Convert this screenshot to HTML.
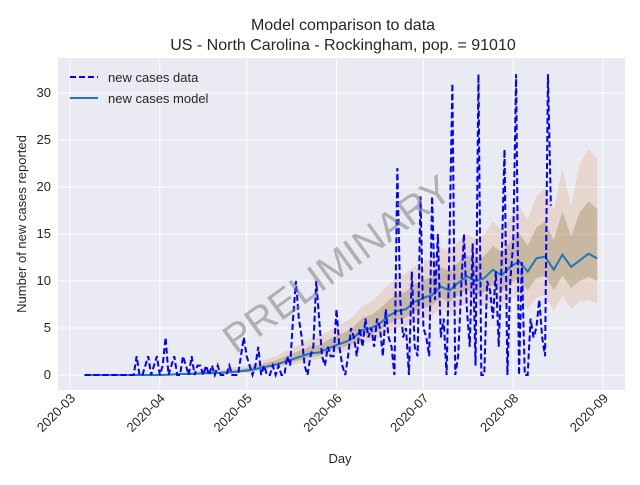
<!DOCTYPE html>
<html><head><meta charset="utf-8"><style>
body{margin:0;background:#fff;font-family:"Liberation Sans","DejaVu Sans",sans-serif}
</style></head><body>
<svg id="c" width="640" height="480" xmlns="http://www.w3.org/2000/svg">
<rect x="0" y="0" width="640" height="480" fill="#fff"/>
<rect x="58" y="58" width="567" height="332" fill="#eaeaf2"/>
<g id="grid"></g>
<g id="band"></g>
<g id="lines"></g>
<g id="ticks"></g>
<text x="343" y="30" text-anchor="middle" font-size="16" fill="#262626">Model comparison to data</text>
<text x="343" y="50" text-anchor="middle" font-size="16" fill="#262626">US - North Carolina - Rockingham, pop. = 91010</text>
<text x="340" y="463" text-anchor="middle" font-size="13" fill="#262626">Day</text>
<text transform="translate(26,224) rotate(-90)" text-anchor="middle" font-size="13" fill="#262626">Number of new cases reported</text>
<text transform="translate(345,275) rotate(-36)" text-anchor="middle" font-size="40" fill="#808080" fill-opacity="0.55">PRELIMINARY</text>
<g>
<line x1="70" y1="77" x2="98" y2="77" stroke="#0000ff" stroke-width="2" stroke-dasharray="6,3"/>
<text x="108" y="82" font-size="13" fill="#262626">new cases data</text>
<line x1="70" y1="98" x2="98" y2="98" stroke="#1f77b4" stroke-width="2"/>
<text x="108" y="103" font-size="13" fill="#262626">new cases model</text>
</g>
</svg>
<script>
const yTicks=[0,5,10,15,20,25,30];
const xTickLabels=["2020-03","2020-04","2020-05","2020-06","2020-07","2020-08","2020-09"];
const xTickDays=[0,31,61,92,122,153,184];
const dataStartDay=5;
const dataValues=[0,0, 0,0,0,0,0,0,0, 0,0,0,0,0,0,0, 0,0,2,0,0,1,2,
0,1,2,0,1,4,0, 1,2,0,0,2,1,0, 2,0,1,1,0,1,0, 1,0,1,0,0,0,1, 0,0,0,2,4,2,1,
0,1,3,0,1,0,0, 1,0,1,0,0,2,1, 6,10,6,4,1,0,2, 3,10,6,2,1,3,2, 2,7,3,1,0,2,5,
4,2,5,3,6,4,5, 3,6,5,2,7,4,3, 0,22,8,4,5,0,11, 3,2,19,5,4,2,19, 8,15,4,6,0,14,31,
0,2,9,15,7,3,14, 1,32,0,0,10,9,6, 11,3,12,24,0,10,14, 32,0,12,0,0,6,4, 5,8,4,2,32,18];
const modelStartDay=5, modelStep=3;
const modelMean=[0,0,0,0,0,0,0,0, 0,0,0.05,0.1,0.1,0.15,0.2,0.2,0.25,0.3,
0.4,0.5,0.7,0.9,1.1,1.4,1.7,2.0,2.3,2.4, 2.8,3.2,3.5,4.0,4.8,5.0,5.5,6.3,6.8,7.0,
7.8,8.2,8.5,9.4,9.0,9.8,10.5,10.0,10.3,11.2, 10.6,11.5,12.1,11.0,12.4,12.6,11.2,12.8,11.5,12.2,12.9,12.4];
const modelLow=[0,0,0,0,0,0,0,0, 0,0,0,0,0,0,0,0.05,0.1,0.1,
0.2,0.2,0.4,0.5,0.7,0.9,1.1,1.3,1.6,1.7, 2.0,2.3,2.5,2.9,3.4,3.6,4.0,4.6,5.0,5.2,
5.8,6.0,6.3,7.0,6.5,7.2,7.6,7.0,7.4,8.0, 7.2,8.0,8.4,7.0,8.2,8.5,6.8,8.4,7.0,7.8,8.0,7.6];
const modelHigh=[0,0,0,0,0,0,0,0, 0,0,0.1,0.2,0.3,0.4,0.5,0.5,0.6,0.8,
0.9,1.1,1.4,1.7,2.0,2.5,2.9,3.3,3.8,4.0, 4.6,5.2,5.6,6.3,7.4,7.8,8.6,9.6,10.4,10.8,
11.6,12.0,12.5,13.6,13.0,14.2,15.0,14.5,15.0,16.3, 15.5,16.8,18.0,16.5,19.0,20.0,17.5,22.0,18.0,22.5,24.0,23.0];
const X=d=>70+d*(533/184), Y=v=>375-v*9.4;
const NS="http://www.w3.org/2000/svg";
function mk(tag,attrs,parent){const e=document.createElementNS(NS,tag);for(const k in attrs)e.setAttribute(k,attrs[k]);parent.appendChild(e);return e;}
const grid=document.getElementById('grid'),ticks=document.getElementById('ticks'),band=document.getElementById('band'),lines=document.getElementById('lines');
yTicks.forEach(v=>{
 const l=mk('line',{x1:58,x2:625,y1:Y(v),y2:Y(v),stroke:'#fff','stroke-width':1},grid);
 
 
 const t=mk('text',{x:51,y:Y(v)+4,'text-anchor':'end','font-size':13,fill:'#262626'},ticks);
 t.textContent=v;
 
 
});
xTickDays.forEach((d,i)=>{
 const l=mk('line',{x1:X(d),x2:X(d),y1:58,y2:390,stroke:'#fff','stroke-width':1},grid);
 
 
 const t=mk('text',{transform:`translate(${X(d)+6},${399}) rotate(-45)`,'text-anchor':'end','font-size':13,fill:'#262626'},ticks);
 t.textContent=xTickLabels[i];
 
 
});
function bandPath(lo,hi){let p='';hi.forEach((v,i)=>p+=(i?'L':'M')+X(modelStartDay+i*modelStep)+','+Y(v));
 for(let i=lo.length-1;i>=0;i--)p+='L'+X(modelStartDay+i*modelStep)+','+Y(lo[i]);return p+'Z';}
const b1=mk('path',{d:bandPath(modelLow,modelHigh),fill:'#e0a878','fill-opacity':0.3},band);


const b2=mk('path',{d:bandPath(modelLow.map((v,i)=>(v+modelMean[i])/2),modelMean.map((v,i)=>(v+modelHigh[i])/2)),fill:'#9a8a60','fill-opacity':0.4},band);


const mp=mk('polyline',{points:modelMean.map((v,i)=>X(modelStartDay+i*modelStep)+','+Y(v)).join(' '),fill:'none',stroke:'#1f77b4','stroke-width':2},lines);


const dp=mk('polyline',{points:dataValues.map((v,i)=>X(dataStartDay+i)+','+Y(v)).join(' '),fill:'none',stroke:'#0000ff','stroke-width':2,'stroke-dasharray':'6,3'},lines);


</script>
</body></html>
